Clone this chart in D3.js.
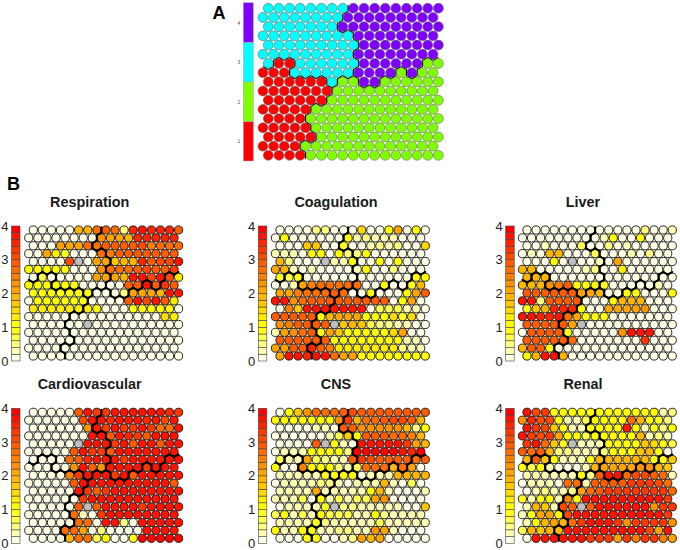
<!DOCTYPE html>
<html>
<head>
<meta charset="utf-8">
<script src="https://cdn.jsdelivr.net/npm/d3@7"></script>
<style>
  html, body { margin: 0; padding: 0; background: #fff; }
  svg { display: block; font-family: "Liberation Sans", Arial, sans-serif; }
  .title { font-size: 14.4px; font-weight: bold; text-anchor: middle; fill: #1a1a1a; }
  .tag { font-size: 18px; font-weight: bold; fill: #000; }
</style>
</head>
<body>
<svg id="chart" width="680" height="550"></svg>
<script>
// som node -> cluster, 17 columns by 17 rows, top row first
var clusters = [
  [3,3,3,3,3,3,3,3,4,4,4,4,4,4,4,4,4],
  [3,3,3,3,3,3,3,3,4,4,4,4,4,4,4,4,4],
  [3,3,3,3,3,3,3,4,4,4,4,4,4,4,4,4,4],
  [3,3,3,3,3,3,3,3,3,4,4,4,4,4,4,4,4],
  [3,3,3,3,3,3,3,3,3,4,4,4,4,4,4,4,4],
  [3,3,3,3,3,3,3,3,3,4,4,4,4,4,4,4,4],
  [3,1,1,3,3,3,3,3,3,4,4,4,4,4,4,2,2],
  [1,1,1,3,3,3,3,3,3,4,4,4,4,2,4,2,2],
  [1,1,1,1,1,1,3,2,2,4,4,2,2,2,2,2,2],
  [1,1,1,1,1,1,1,2,2,2,2,2,2,2,2,2,2],
  [1,1,1,1,1,1,2,2,2,2,2,2,2,2,2,2,2],
  [1,1,1,1,1,2,2,2,2,2,2,2,2,2,2,2,2],
  [1,1,1,1,2,2,2,2,2,2,2,2,2,2,2,2,2],
  [1,1,1,1,1,2,2,2,2,2,2,2,2,2,2,2,2],
  [1,1,1,1,1,2,2,2,2,2,2,2,2,2,2,2,2],
  [1,1,1,1,2,2,2,2,2,2,2,2,2,2,2,2,2],
  [1,1,1,1,2,2,2,2,2,2,2,2,2,2,2,2,2]
];

// colour bin per node, 0 = palest, 19 = red, null = empty node
var respiration = [
  [0,0,0,0,0,9,9,13,14,13,2,17,18,17,17,17,14],
  [0,0,0,0,0,0,0,0,11,10,10,9,17,17,17,17,17],
  [0,0,0,10,10,10,13,13,14,14,14,14,15,12,13,13,13],
  [0,0,10,6,4,0,0,0,13,12,14,14,14,14,14,14,14],
  [0,0,0,0,15,null,0,10,10,8,9,9,17,14,15,15,18],
  [5,5,5,5,5,0,0,0,11,13,13,13,14,15,14,14,16],
  [0,3,0,0,0,0,0,10,10,10,9,18,18,15,18,15,6],
  [5,5,5,5,5,5,0,0,0,0,0,14,14,18,14,16,14],
  [5,5,5,5,5,5,5,0,0,0,2,10,10,10,9,18,18],
  [0,5,5,5,5,5,5,0,0,0,0,14,18,15,18,14,6],
  [6,6,6,6,6,6,6,5,0,0,0,5,5,5,5,5,0],
  [0,0,0,0,0,0,0,0,0,0,0,0,0,0,0,7,6],
  [0,0,0,0,0,0,null,0,0,0,0,0,0,0,0,0,0],
  [0,0,0,0,0,0,0,0,0,0,0,0,0,0,0,0,0],
  [0,0,0,0,0,0,0,0,0,0,0,0,0,0,0,0,0],
  [0,0,0,0,0,0,0,0,0,0,0,0,0,0,0,0,0],
  [0,0,0,0,0,0,0,0,0,0,0,0,0,0,0,0,0]
];
var coagulation = [
  [0,0,0,0,2,2,0,0,0,7,0,0,5,10,0,5,0],
  [0,5,0,0,0,0,0,0,5,1,2,1,1,1,0,0,0],
  [0,0,0,8,8,0,0,4,0,0,1,2,1,2,0,0,7],
  [1,1,1,0,5,5,0,5,2,2,5,0,0,0,0,0,0],
  [9,2,0,0,0,null,1,1,5,0,0,5,0,5,0,0,0],
  [10,9,1,0,1,0,0,0,0,1,5,0,0,2,0,0,0],
  [4,3,5,0,0,0,0,0,0,0,0,0,0,0,0,5,5],
  [0,0,1,10,12,13,13,13,13,13,0,0,5,0,0,4,9],
  [10,10,12,13,13,13,14,13,0,0,5,0,0,0,5,10,14],
  [18,18,11,13,14,14,14,14,14,14,14,14,14,0,5,10,0],
  [0,12,8,18,18,18,18,18,18,18,0,3,3,3,1,1,0],
  [14,14,14,14,14,5,9,10,10,10,5,5,5,7,4,7,0],
  [11,12,14,14,14,14,null,8,9,8,3,2,2,1,1,0,0],
  [1,10,11,13,14,5,10,8,5,5,5,5,5,7,10,0,0],
  [14,14,14,14,14,14,5,5,5,5,5,5,5,5,1,1,0],
  [10,10,14,14,17,14,12,6,6,6,6,6,6,6,2,1,1],
  [10,18,18,17,18,18,13,10,10,5,5,5,5,5,5,5,5]
];
var liver = [
  [0,0,0,0,0,0,0,0,0,0,0,0,0,2,0,0,1],
  [0,0,0,0,0,0,0,0,0,1,5,0,0,5,0,0,0],
  [0,0,1,0,0,0,3,0,0,2,0,1,0,0,0,0,0],
  [0,1,0,9,9,0,0,0,3,0,0,0,1,0,2,0,0],
  [0,0,0,5,0,null,0,0,1,0,10,0,0,0,0,0,0],
  [9,9,0,0,0,0,0,1,2,0,0,6,0,0,0,0,0],
  [9,9,9,0,0,0,0,0,0,0,0,0,0,0,0,0,0],
  [9,9,9,11,12,14,5,5,5,4,0,0,0,0,0,1,0],
  [14,14,14,14,14,14,10,10,9,0,0,5,5,0,0,0,5],
  [18,18,2,14,14,14,14,0,0,0,5,9,9,9,0,0,0],
  [5,8,9,17,17,17,5,0,0,10,10,10,10,11,0,0,0],
  [18,18,17,17,18,13,10,5,5,5,0,0,0,0,0,0,0],
  [14,14,14,14,14,10,null,0,0,0,0,0,0,0,0,0,0],
  [0,14,14,14,14,4,0,0,0,0,0,11,18,18,18,0,0],
  [14,14,14,14,14,13,0,0,0,0,0,0,0,16,0,0,0],
  [9,14,14,5,0,0,0,0,0,0,0,0,0,0,0,0,0],
  [5,9,18,18,9,0,0,0,0,0,0,0,0,0,0,0,0]
];
var cardiovascular = [
  [0,0,0,0,0,14,18,16,16,18,18,18,18,18,18,17,16],
  [0,0,0,0,0,0,15,18,18,17,18,18,18,17,18,15,18],
  [0,0,0,0,0,0,11,18,16,18,16,16,18,16,13,13,18],
  [0,0,0,0,0,0,0,18,18,14,18,17,16,14,18,18,18],
  [0,0,0,0,0,null,18,18,18,16,18,14,18,18,14,18,18],
  [0,0,0,0,0,14,18,16,16,14,18,18,18,18,18,18,18],
  [0,0,0,0,13,14,17,18,18,18,16,18,18,18,18,18,18],
  [0,0,0,0,0,11,18,14,11,18,18,18,18,16,18,18,18],
  [0,0,0,0,12,16,18,18,18,16,18,14,18,18,18,18,18],
  [0,0,0,0,0,14,18,18,18,18,18,18,18,18,18,18,14],
  [0,0,0,0,0,18,16,14,16,18,18,18,18,18,18,18,18],
  [0,0,0,0,0,0,16,18,18,18,18,18,18,18,18,18,18],
  [0,0,0,0,0,14,null,14,18,18,18,18,16,18,18,18,18],
  [0,0,0,0,0,13,1,0,16,18,18,18,18,18,18,18,18],
  [0,0,0,0,0,13,13,0,18,18,2,0,18,18,18,18,18],
  [0,0,0,0,13,13,10,0,2,0,0,0,0,18,18,18,18],
  [0,0,0,0,9,13,13,3,5,0,0,4,19,19,19,19,19]
];
var cns = [
  [0,5,8,11,13,13,13,14,15,14,14,14,14,14,14,14,14],
  [5,5,5,5,5,5,5,11,16,9,13,13,14,15,15,14,9],
  [0,0,0,0,1,1,0,14,14,11,11,11,11,11,9,2,5],
  [0,0,0,0,0,0,1,3,8,5,14,14,14,13,13,12,9],
  [0,0,0,0,14,null,5,1,0,18,18,18,18,18,16,10,9],
  [0,1,1,1,5,5,5,5,2,19,19,19,19,19,18,17,19],
  [3,1,1,10,3,2,1,1,14,16,15,14,14,14,14,13,14],
  [5,0,0,12,5,5,5,2,1,3,13,13,13,9,13,10,0],
  [1,1,1,1,1,4,5,5,5,0,1,1,1,9,9,9,9],
  [0,1,1,1,1,2,2,1,0,1,1,1,9,1,0,3,0],
  [1,1,1,1,10,1,1,1,1,1,5,9,1,0,0,0,1],
  [1,1,1,3,0,5,1,3,1,3,3,10,11,0,0,0,0],
  [0,1,1,1,1,4,null,2,2,1,1,1,1,1,0,0,8],
  [3,5,1,3,1,5,3,3,3,1,1,5,2,1,1,1,1],
  [1,1,1,1,4,2,1,1,1,1,1,3,1,1,1,1,1],
  [5,1,1,5,5,1,1,2,2,1,1,11,10,1,0,0,0],
  [0,0,0,5,5,0,0,1,2,10,9,10,0,0,0,0,0]
];
var renal = [
  [18,15,16,5,5,5,5,5,5,5,5,5,5,5,5,1,2],
  [11,17,15,15,5,1,1,3,5,5,5,5,13,9,5,4,2],
  [18,16,15,8,4,1,1,5,5,5,5,18,5,1,4,2,5],
  [18,16,15,16,10,5,5,3,5,5,5,5,5,9,1,2,1],
  [16,18,13,8,4,null,1,1,1,5,5,5,5,8,7,5,3],
  [14,13,14,9,2,2,1,1,1,2,5,5,5,8,9,5,0],
  [9,14,8,5,1,1,1,5,9,9,9,9,9,9,5,5,8],
  [4,3,5,1,0,0,0,1,9,10,10,10,10,11,11,9,8],
  [1,1,1,1,1,1,5,2,14,18,18,13,15,15,14,13,1],
  [0,1,1,1,0,13,13,1,14,14,14,14,16,16,16,15,13],
  [0,1,2,1,1,2,10,13,14,16,16,16,16,16,16,16,13],
  [4,1,4,5,1,12,5,18,18,18,18,18,18,18,18,18,16],
  [1,9,8,1,15,14,null,14,18,18,18,18,18,18,11,16,16],
  [1,4,10,10,5,15,18,18,18,18,18,18,18,18,18,18,16],
  [1,5,9,10,9,13,16,18,18,18,16,11,16,16,16,16,11],
  [3,9,8,9,9,18,18,18,18,18,18,18,18,18,15,10,18],
  [0,18,18,18,18,18,18,16,16,16,10,16,12,16,16,12,10]
];

var panelTitles = ["Respiration", "Coagulation", "Liver", "Cardiovascular", "CNS", "Renal"];
var panelValues = [respiration, coagulation, liver, cardiovascular, cns, renal];
var scoreTicks = [0, 1, 2, 3, 4];
var clusterTicks = [1, 2, 3, 4];

// rev(heat.colors(20))
var palette = ["#FFFFE6","#FFFFB3","#FFFF80","#FFFF4D","#FFFF1A","#FFFF00","#FFED00","#FFDB00","#FFC800","#FFB600",
  "#FFA400","#FF9200","#FF8000","#FF6D00","#FF5B00","#FF4900","#FF3700","#FF2400","#FF1200","#FF0000"];
var clusterColors = ["#FF0000", "#80FF00", "#00FFFF", "#8000FF"];

var binColor = d3.scaleQuantize().domain([0, 20]).range(palette);
var clusterColor = d3.scaleOrdinal().domain(clusterTicks).range(clusterColors);

var svg = d3.select("#chart");

// hex lattice, odd rows sit half a step to the left
function drawGrid(g, values, fill, o) {
  var x = d3.scaleLinear().domain([0, 16]).range([o.x0, o.x0 + 16 * o.dx]);
  var y = d3.scaleLinear().domain([0, 16]).range([o.y0, o.y0 + 16 * o.dy]);
  var px = (r, c) => x(c) - (r % 2 ? o.dx / 2 : 0);

  var nodes = [];
  values.forEach((row, r) => row.forEach((v, c) => nodes.push({ r: r, c: c, v: v })));

  g.selectAll("circle").data(nodes).enter().append("circle")
    .attr("cx", d => px(d.r, d.c))
    .attr("cy", d => y(d.r))
    .attr("r", o.radius)
    .attr("fill", fill)
    .attr("stroke", o.stroke)
    .attr("stroke-width", o.strokeWidth);

  // cluster boundary: a hexagon side between neighbours in different clusters
  var edges = [];
  nodes.forEach(d => {
    var shift = d.r % 2 ? -1 : 0;
    [[d.r, d.c + 1], [d.r + 1, d.c + shift], [d.r + 1, d.c + shift + 1]].forEach(n => {
      if (n[0] > 16 || n[1] < 0 || n[1] > 16) return;
      if (clusters[d.r][d.c] === clusters[n[0]][n[1]]) return;
      var x1 = px(d.r, d.c), y1 = y(d.r), x2 = px(n[0], n[1]), y2 = y(n[0]);
      var mx = (x1 + x2) / 2, my = (y1 + y2) / 2;
      var len = Math.hypot(x2 - x1, y2 - y1);
      var ux = -(y2 - y1) / len, uy = (x2 - x1) / len;
      var half = o.dx * 0.29;
      edges.push([mx - ux * half, my - uy * half, mx + ux * half, my + uy * half]);
    });
  });
  g.selectAll("line.edge").data(edges).enter().append("line")
    .attr("class", "edge")
    .attr("x1", d => d[0]).attr("y1", d => d[1])
    .attr("x2", d => d[2]).attr("y2", d => d[3])
    .attr("stroke", "#000")
    .attr("stroke-width", o.edgeWidth)
    .attr("stroke-linecap", "round");
}

function drawKey(g, colors, scale, ticks, o) {
  var band = d3.scaleBand().domain(d3.range(colors.length)).range([o.bottom, o.top]);
  g.selectAll("rect").data(colors).enter().append("rect")
    .attr("x", o.x)
    .attr("y", (d, i) => band(i))
    .attr("width", o.w)
    .attr("height", band.bandwidth())
    .attr("fill", d => d)
    .attr("stroke", o.stroke)
    .attr("stroke-width", o.strokeWidth);

  var axis = g.append("g")
    .attr("transform", "translate(" + o.x + ",0)")
    .call(d3.axisLeft(scale).tickValues(ticks).tickFormat(d3.format("d")).tickSize(0).tickPadding(o.pad));
  axis.select(".domain").remove();
  axis.selectAll("text")
    .attr("font-family", '"Liberation Sans", Arial, sans-serif')
    .attr("font-size", o.font)
    .attr("fill", o.color);
}

// panel A
var panelA = svg.append("g");
drawGrid(panelA, clusters, d => clusterColor(d.v), {
  x0: 268.3, y0: 8.3, dx: 10.63, dy: 9.19, radius: 4.95, stroke: "#666", strokeWidth: 0.6, edgeWidth: 0.9
});
drawKey(panelA, clusterColors,
  d3.scaleLinear().domain([0.5, 4.5]).range([161, 2.7]), clusterTicks,
  { x: 243.3, w: 10, top: 2.7, bottom: 161, stroke: "#aaa", strokeWidth: 0.5, pad: 3, font: 5, color: "#555" });

svg.append("text").attr("class", "tag").attr("x", 212.5).attr("y", 19).text("A");
svg.append("text").attr("class", "tag").attr("x", 7).attr("y", 190).text("B");

// panel B, two rows of three
var colX = [33.3, 280, 527];
var keyX = [11.5, 258.3, 505.7];
var titleX = [89.7, 336, 583];
var rowY = [230, 412.3];
var titleY = [207, 389];

panelValues.forEach((values, i) => {
  var col = i % 3, row = Math.floor(i / 3);
  var g = svg.append("g");
  var top = rowY[row] - 4, bottom = rowY[row] + 131;

  g.append("text").attr("class", "title")
    .attr("x", titleX[col]).attr("y", titleY[row]).text(panelTitles[i]);

  drawGrid(g, values, d => d.v === null ? "#BEBEBE" : binColor(d.v), {
    x0: colX[col], y0: rowY[row], dx: 9.08, dy: 7.875, radius: 4.1, stroke: "#111", strokeWidth: 0.9, edgeWidth: 2
  });
  drawKey(g, palette,
    d3.scaleLinear().domain([0, 4]).range([bottom, top]), scoreTicks,
    { x: keyX[col], w: 8.5, top: top, bottom: bottom, stroke: "#444", strokeWidth: 0.6, pad: 3, font: 13, color: "#222" });
});
</script>
</body>
</html>
